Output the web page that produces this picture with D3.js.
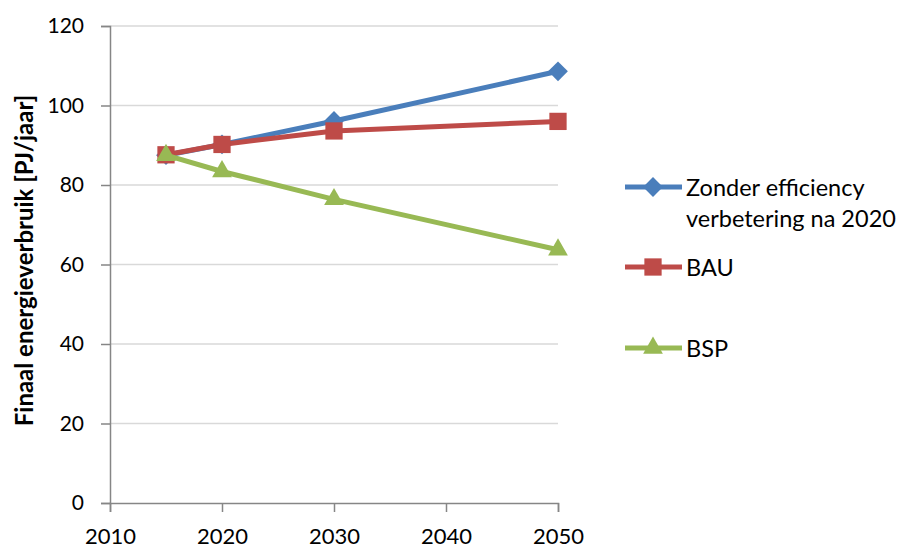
<!DOCTYPE html>
<html>
<head>
<meta charset="utf-8">
<script src="https://cdn.jsdelivr.net/npm/d3@7"></script>
<style>
  html, body { margin: 0; padding: 0; background: #fff; }
  svg text { font-family: Lato, "Open Sans", sans-serif; fill: #000; }
</style>
</head>
<body>
<svg id="chart" width="905" height="548"></svg>
<script>
// Final energy use scenarios (PJ per year)
const years = [2015, 2020, 2030, 2050];
const zonderValues = [87.5, 90.2, 96.1, 108.6];
const bauValues = [87.6, 90.2, 93.6, 96.0];
const bspValues = [87.5, 83.4, 76.4, 63.7];
const seriesNames = ["Zonder efficiency|verbetering na 2020", "BAU", "BSP"];
const xTicks = [2010, 2020, 2030, 2040, 2050];
const yTicks = [0, 20, 40, 60, 80, 100, 120];
const yTitle = "Finaal energieverbruik [PJ/jaar]";

const series = [
  { name: seriesNames[0], values: zonderValues, color: "#4a7ebb", shape: "diamond" },
  { name: seriesNames[1], values: bauValues, color: "#be4b48", shape: "square" },
  { name: seriesNames[2], values: bspValues, color: "#98b954", shape: "triangle" }
];

const svg = d3.select("#chart");
const x = d3.scaleLinear().domain([2010, 2050]).range([110, 558]);
const y = d3.scaleLinear().domain([0, 120]).range([503, 26]);
const FONT = "Lato, 'Open Sans', sans-serif";

// horizontal gridlines
svg.append("g").selectAll("line").data(yTicks.filter(d => d > 0)).join("line")
  .attr("x1", x(2010)).attr("x2", x(2050))
  .attr("y1", d => y(d)).attr("y2", d => y(d))
  .attr("stroke", "#d9d9d9").attr("stroke-width", 1.5);

// y axis
const yAxis = svg.append("g").attr("transform", `translate(${x(2010)},0)`)
  .call(d3.axisLeft(y).tickValues(yTicks).tickSize(9).tickPadding(17));
// x axis
const xAxis = svg.append("g").attr("transform", `translate(0,${y(0)})`)
  .call(d3.axisBottom(x).tickValues(xTicks).tickFormat(d3.format("d")).tickSize(9).tickPadding(14));

[yAxis, xAxis].forEach(g => {
  g.attr("font-family", FONT).attr("font-size", 21);
  g.select(".domain").attr("stroke", "#868686").attr("stroke-width", 1.5);
  g.selectAll(".tick line").attr("stroke", "#868686").attr("stroke-width", 1.5);
  g.selectAll(".tick text").attr("fill", "#000");
});
xAxis.attr("font-size", 22);
xAxis.selectAll(".tick text").attr("dy", "0.8em");

// y axis title
svg.append("text")
  .attr("transform", `translate(33,${y(60) - 4}) rotate(-90)`)
  .attr("text-anchor", "middle")
  .attr("font-size", 24).attr("font-weight", "bold")
  .text(yTitle);

const symbolFor = {
  diamond: d3.symbol().type(d3.symbolDiamond2).size(250),
  square: d3.symbol().type(d3.symbolSquare2).size(380),
  triangle: d3.symbol().type(d3.symbolTriangle2).size(280)
};

const line = d3.line().x((d, i) => x(years[i])).y(d => y(d));

series.forEach(s => {
  svg.append("path")
    .attr("d", line(s.values))
    .attr("fill", "none").attr("stroke", s.color).attr("stroke-width", 5)
    .attr("stroke-linejoin", "round");
  svg.append("g").selectAll("path").data(s.values).join("path")
    .attr("transform", (d, i) => `translate(${x(years[i])},${y(d)})`)
    .attr("d", symbolFor[s.shape]())
    .attr("fill", s.color);
});

// legend
const legendY = [187, 267, 348];
series.forEach((s, i) => {
  const g = svg.append("g").attr("transform", `translate(0,${legendY[i]})`);
  g.append("line").attr("x1", 625).attr("x2", 682).attr("y1", 0).attr("y2", 0)
    .attr("stroke", s.color).attr("stroke-width", 5);
  g.append("path").attr("transform", "translate(653,0)")
    .attr("d", symbolFor[s.shape]()).attr("fill", s.color);
  const lines = s.name.split("|");
  const t = g.append("text").attr("x", 686).attr("y", 8.5).attr("font-size", 23.5);
  lines.forEach((ln, k) => {
    t.append("tspan").attr("x", 686).attr("dy", k === 0 ? 0 : 31).text(ln);
  });
});
</script>
</body>
</html>
